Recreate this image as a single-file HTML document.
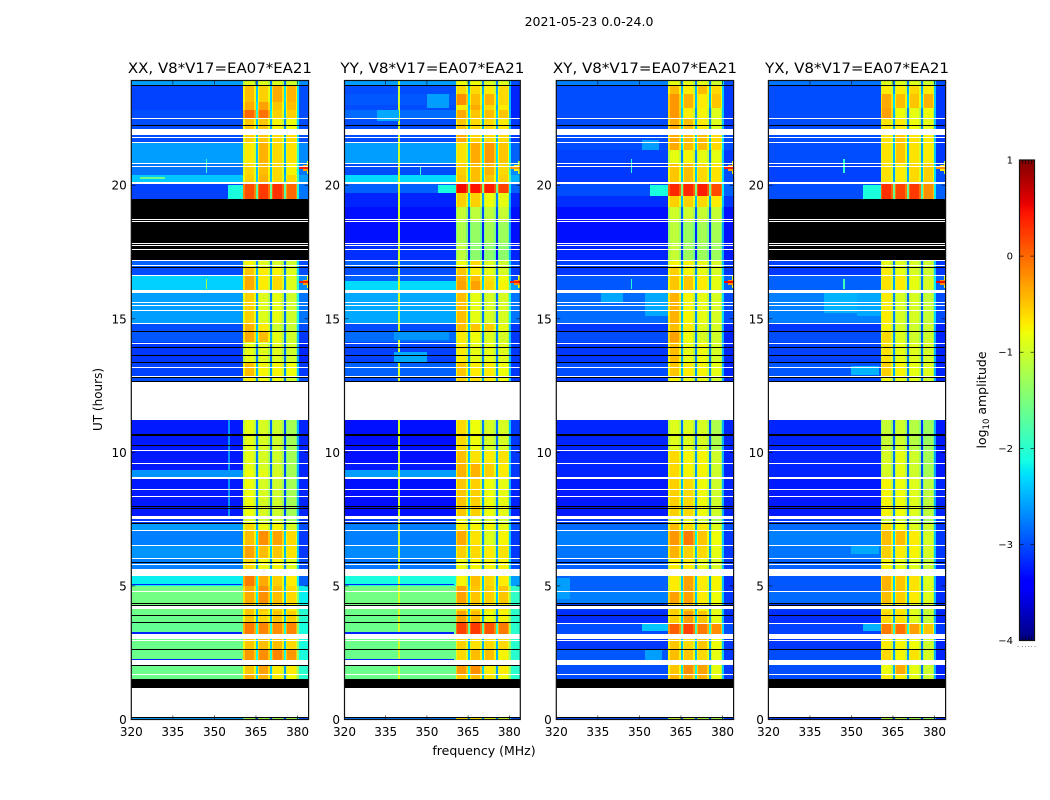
<!DOCTYPE html>
<html lang="en">
<head>
<meta charset="utf-8">
<title>2021-05-23 0.0-24.0</title>
<style>
html,body{margin:0;padding:0;background:#fff;}
svg{display:block;font-family:"DejaVu Sans","Liberation Sans",sans-serif;fill:#000;}
</style>
</head>
<body>
<svg id="figure" xmlns="http://www.w3.org/2000/svg" width="1050" height="800" viewBox="0 0 1050 800">
  <text x="589" y="26" font-size="12.5" text-anchor="middle">2021-05-23 0.0-24.0</text>
  <text x="484" y="755" font-size="12.5" text-anchor="middle">frequency (MHz)</text>
  <text transform="translate(102,399.5) rotate(-90)" font-size="12" text-anchor="middle">UT (hours)</text>
  <text transform="translate(986,400) rotate(-90)" font-size="12.5" text-anchor="middle">log<tspan font-size="8.5" dy="3">10</tspan><tspan dy="-3"> amplitude</tspan></text>
</svg>
<script>
// Tick labels
const freqTicks = [320, 335, 350, 365, 380];
const hourTicks = [0, 5, 10, 15, 20];
const colorTicks = [1, 0, -1, -2, -3, -4];

// Spectral layout of the receiver, MHz
const subbandEdges = [[360.5, 364.9], [365.7, 370.0], [370.7, 375.0], [375.7, 379.9]];

// Rows: hour top, hour bottom, log10 amplitude of background, subbands 1-4, upper edge
const xxRows = [
  [23.9,23.74,-2.6,-.9,-.9,-.9,-1,-2.7],
  [23.74,23.13,-3.05,-.45,-.55,-.35,-.4,-3],
  [23.13,22.82,-3.05,-.35,-.3,-.5,-.45,-3],
  [22.82,22.51,-3,0,-.05,-.55,-.55,-3],
  [22.51,22.09,-3,-.5,-.5,-.75,-.8,-3],
  [21.87,21.62,-3,-.55,-.5,-.6,-.6,-3],
  [21.62,20.8,-2.6,-.7,-.4,-.6,-.65,-2.7],
  [20.8,20.38,-2.8,-.6,-.45,-.6,-.75,-2.8],
  [20.38,20.11,-2.4,-.55,-.4,-.6,-.6,-2.6],
  [20.04,19.48,-3.05,.15,.25,.3,0,-2.8],
  [17.2,16.93,-2.9,-.75,-.9,-.95,-1,-3],
  [16.93,16.64,-3,-.5,-.7,-.75,-.9,-3],
  [16.64,16.07,-2.35,-.35,-.7,-.6,-.9,-2.7],
  [15.96,14.86,-2.6,-.55,-.9,-.85,-1,-2.8],
  [14.79,14.54,-3,-.4,-.7,-1,-1.05,-3],
  [14.54,14.14,-2.95,-.35,-.45,-.85,-1,-3.1],
  [14.14,13.4,-3.1,-.85,-.9,-.9,-1,-3.2],
  [13.4,12.82,-3.05,-.45,-.75,-.75,-.8,-3.1],
  [12.82,12.64,-3,-.7,-.8,-.8,-1,-3],
  [11.2,9.33,-3.25,-.85,-.95,-1,-1.25,-3.2],
  [9.33,9.09,-2.65,-.8,-.85,-.95,-1.25,-3.2],
  [9.04,7.61,-3.25,-.8,-.95,-1,-1.25,-3.2],
  [7.5,7.37,-3.1,-.9,-1,-1,-1.25,-3.1],
  [7.37,7.11,-2.6,-.6,-.8,-.75,-.95,-3],
  [7.11,6.55,-2.75,-.45,-.2,-.3,-.6,-3.1],
  [6.55,6.06,-2.65,-.3,-.45,-.5,-.65,-3.1],
  [6.06,5.62,-2.75,-.6,-.8,-.75,-.9,-3],
  [5.36,5,-2.2,-.1,-.35,-.55,-.7,-2.9],
  [5,4.36,-1.55,-.35,-.2,-.45,-.6,-2.2],
  [4.36,4.06,-1.55,-.5,-.5,-.6,-.7,-2.1],
  [4.06,3.65,-1.6,-.5,-.6,-.5,-.55,-2],
  [3.65,3.21,-1.65,-.1,-.15,-.2,-.15,-2.1],
  [3.03,2.65,-1.6,-.5,-.45,-.45,-.6,-2.1],
  [2.65,2.21,-1.6,-.25,-.2,-.15,-.25,-2.1],
  [2.05,1.71,-1.6,-.5,-.3,-.7,-.7,-2],
  [1.71,1.52,-1.6,-.35,-.4,-.7,-.8,-2],
  [.05,0,-2.6,-1.2,-1.2,-1.2,-1.2,-3]
];
const yyRows = [
  [23.9,23.74,-2.6,-.8,-.8,-.9,-.9,-3],
  [23.74,23.4,-3,-.6,-.6,-.7,-.6,-3.2],
  [23.4,23,-2.95,-.2,-.45,-.4,-.6,-3.2],
  [23,22.82,-3,-.7,-.35,-.6,-.7,-3.2],
  [22.82,22.51,-2.85,-.35,-.5,-.45,-.5,-3.2],
  [22.51,22.09,-3,-.5,-.6,-.6,-.7,-3.1],
  [21.87,21.62,-3,-.35,-.55,-.6,-.6,-3.1],
  [21.62,20.8,-2.6,-.65,-.35,-.25,-.5,-2.9],
  [20.8,20.38,-3,-.55,-.45,-.4,-.6,-2.7],
  [20.38,20.11,-2.3,-.5,-.45,-.5,-.55,-2.5],
  [20.04,19.7,-2.9,.5,.45,.4,.2,-2.9],
  [19.7,19.2,-3.2,-.55,-.55,-.8,-.85,-3.2],
  [19.2,18.66,-3.3,-1.05,-1.1,-1.1,-1.05,-3.3],
  [18.66,17.82,-3.3,-1.2,-1.35,-1.25,-1.3,-3.3],
  [17.82,17.2,-3.15,-1.1,-1.4,-1.4,-1.4,-3.2],
  [17.2,16.93,-2.9,-.8,-.6,-.9,-1,-3],
  [16.93,16.64,-3,-.5,-.7,-.85,-.95,-3.1],
  [16.64,16.4,-2.9,-.35,-.45,-.65,-.8,-3],
  [16.4,16.07,-2.3,-.3,-.3,-.6,-.75,-2.6],
  [15.96,14.86,-2.55,-.45,-.85,-.95,-.95,-2.8],
  [14.79,14.54,-3,-.45,-.5,-.55,-.85,-3.1],
  [14.54,14.14,-2.85,-.7,-.8,-.9,-.95,-3.1],
  [14.14,13.4,-3.05,-.7,-.85,-.85,-.9,-3.1],
  [13.4,12.82,-2.9,-.5,-.7,-.7,-.8,-3.1],
  [12.82,12.64,-3,-.55,-.65,-.7,-.8,-3.1],
  [11.2,10.1,-3.3,-.6,-.8,-.95,-.95,-3.1],
  [10.1,9.62,-3.3,-.45,-.65,-.7,-.65,-3.1],
  [9.62,9.33,-3.25,-.4,-.4,-.55,-.7,-3.1],
  [9.33,9.09,-2.6,-.4,-.4,-.55,-.7,-3.1],
  [9.04,7.61,-3.3,-.5,-.55,-.8,-.85,-3.2],
  [7.5,7.37,-3.1,-.8,-.9,-.95,-1,-3.1],
  [7.37,7.11,-2.75,-.7,-.75,-.75,-.85,-3],
  [7.11,6.55,-2.75,-.35,-.65,-.9,-.75,-3.1],
  [6.55,6.06,-2.7,-.55,-.6,-.7,-.65,-3.1],
  [6.06,5.62,-2.8,-.8,-.75,-.75,-.75,-3],
  [5.36,5,-2.1,-.75,-.45,-.6,-.7,-2.6],
  [5,4.36,-1.55,-.3,-.5,-.55,-.5,-1.95],
  [4.36,4.06,-1.55,-.6,-.6,-.7,-.7,-1.95],
  [4.06,3.65,-1.6,-.3,-.45,-.8,-.75,-2],
  [3.65,3.21,-1.6,.2,.25,.1,-.1,-2],
  [3.03,2.65,-1.6,-.55,-.65,-.6,-.6,-2],
  [2.65,2.21,-1.6,-.6,-.45,-.45,-.75,-2],
  [2.05,1.71,-1.6,-.25,-.2,-.7,-.7,-2],
  [1.71,1.52,-1.6,-.5,-.45,-.65,-.8,-2],
  [.05,0,-2.8,-.6,-.7,-.8,-1,-3]
];
const xyRows = [
  [23.9,23.74,-2.75,-.85,-.85,-.85,-1,-3],
  [23.74,23.4,-3,-.45,-.7,-.45,-.6,-3.1],
  [23.4,22.9,-3,-.25,-.4,-.7,-.5,-3.1],
  [22.9,22.51,-3,-.25,-.7,-.75,-.9,-3.1],
  [22.51,22.09,-3,-.35,-.45,-.7,-.9,-3.1],
  [21.87,21.31,-3,-.35,-.45,-.45,-.6,-3],
  [21.31,20.8,-3.05,-.85,-.75,-.85,-.85,-3.1],
  [20.8,20.11,-3.1,-.5,-.45,-.6,-.65,-3],
  [20.04,19.6,-3,.35,.35,.4,.15,-2.9],
  [19.6,19.2,-3.15,-.55,-.55,-.6,-.7,-3.1],
  [19.2,18.66,-3.3,-1,-1,-1.05,-1.05,-3.3],
  [18.66,17.82,-3.3,-1.1,-1.3,-1.25,-1.25,-3.3],
  [17.82,17.2,-3.2,-1.05,-1.3,-1.3,-1.3,-3.25],
  [17.2,16.93,-3.05,-.75,-.75,-.85,-.95,-3.1],
  [16.93,16.64,-3.1,-.55,-.75,-.85,-.95,-3.1],
  [16.64,16.07,-2.95,-.5,-.5,-.7,-.85,-2.9],
  [15.96,14.86,-2.85,-.4,-.75,-.85,-.95,-3],
  [14.79,14.54,-3.1,-.45,-.7,-.9,-.95,-3.2],
  [14.54,14.14,-3,-.3,-.8,-.95,-1,-3.2],
  [14.14,13.4,-3.1,-.45,-.85,-.8,-.95,-3.2],
  [13.4,12.82,-3,-.5,-.7,-.75,-.85,-3.2],
  [12.82,12.64,-3.1,-.75,-.85,-.85,-1,-3.2],
  [11.2,10.1,-3.2,-.9,-.9,-.95,-1.2,-3.2],
  [10.1,9.09,-3.2,-.6,-.75,-.75,-1,-3.2],
  [9.04,7.61,-3.25,-.55,-.6,-.8,-1,-3.2],
  [7.5,7.37,-3.1,-.8,-.85,-1,-1.2,-3.1],
  [7.37,7.11,-2.85,-.45,-.6,-.7,-.9,-3],
  [7.11,6.55,-2.75,-.25,-.1,-.5,-.8,-3.1],
  [6.55,6.06,-2.8,-.4,-.55,-.6,-.85,-3.1],
  [6.06,5.62,-2.9,-.7,-.7,-.85,-.95,-3.1],
  [5.36,4.82,-2.9,-.7,-.3,-.7,-.75,-3.15],
  [4.82,4.36,-2.75,-.3,-.3,-.7,-.8,-3.1],
  [4.36,4.06,-3.1,-.55,-.55,-.75,-.9,-3.1],
  [4.06,3.63,-3.15,-.55,-.3,-.5,-.85,-3.15],
  [3.63,3.21,-3,.05,.2,-.1,-.2,-3],
  [3.03,2.65,-3.1,-.5,-.6,-.5,-.8,-3.1],
  [2.65,2.21,-2.95,-.45,-.5,-.6,-.85,-3.1],
  [2.05,1.71,-3,-.5,-.2,-.3,-.85,-3.1],
  [1.71,1.52,-3,-.4,-.35,-.4,-.85,-3.1],
  [.05,0,-3,-1,-1,-1.1,-1.2,-3.1]
];
const yxRows = [
  [23.9,23.74,-2.8,-.9,-.9,-.9,-1,-3],
  [23.74,23.4,-3,-.7,-.7,-.6,-.7,-3.1],
  [23.4,22.9,-3,-.35,-.45,-.5,-.4,-3.1],
  [22.9,22.51,-3,-.3,-.8,-.85,-.8,-3.1],
  [22.51,22.09,-3,-.65,-.7,-.8,-.85,-3.1],
  [21.87,20.8,-3,-.65,-.5,-.65,-.7,-3.1],
  [20.8,20.11,-3.05,-.65,-.7,-.6,-.55,-3],
  [20.04,19.48,-3,.3,.2,.25,-.2,-2.9],
  [17.2,16.93,-3.05,-.85,-.9,-.95,-1,-3.1],
  [16.93,16.64,-3.1,-.7,-.85,-.95,-1,-3.1],
  [16.64,16.07,-2.9,-.65,-.7,-.85,-.95,-2.9],
  [15.96,14.86,-2.75,-.7,-.95,-.95,-1.05,-3],
  [14.79,14.54,-3.1,-.75,-.95,-1,-1,-3.2],
  [14.54,14.14,-3,-.6,-.9,-1,-1,-3.2],
  [14.14,13.4,-3.05,-.65,-.85,-.9,-.95,-3.2],
  [13.4,12.82,-2.95,-.55,-.75,-.85,-.9,-3.2],
  [12.82,12.64,-3.05,-.8,-.85,-.9,-1,-3.2],
  [11.2,10.1,-3.2,-1.05,-1,-1.15,-1.3,-3.25],
  [10.1,9.09,-3.2,-.95,-.85,-1,-1.25,-3.25],
  [9.04,7.61,-3.25,-.75,-.8,-.9,-1.1,-3.2],
  [7.5,7.37,-3.1,-1,-1,-1.1,-1.25,-3.1],
  [7.37,7.11,-2.85,-.6,-.8,-.9,-1,-3.1],
  [7.11,6.55,-2.75,-.45,-.45,-.7,-.95,-3.1],
  [6.55,6.06,-2.8,-.55,-.7,-.75,-.95,-3.1],
  [6.06,5.62,-2.9,-.75,-.85,-.9,-1.05,-3.1],
  [5.36,4.82,-2.95,-.4,-.5,-.65,-.9,-3.15],
  [4.82,4.36,-2.85,-.45,-.55,-.7,-.9,-3.15],
  [4.36,4.06,-3.1,-.7,-.7,-.9,-1,-3.15],
  [4.06,3.63,-3.15,-.6,-.65,-.9,-1.05,-3.2],
  [3.63,3.21,-3.05,-.1,-.05,-.3,-.5,-3.1],
  [3.03,2.65,-3.1,-.7,-.75,-.8,-1,-3.2],
  [2.65,2.21,-3,-.6,-.75,-.65,-.95,-3.2],
  [2.05,1.71,-3,-.8,-.35,-.85,-1,-3.2],
  [1.71,1.52,-3,-.7,-.7,-.85,-1,-3.2],
  [.05,0,-3.1,-1.1,-1.1,-1.2,-1.3,-3.2]
];

// Localised features: hour top, hour bottom, MHz start, MHz end, log10 amplitude
const xxPatches = [
  [20,19.5,355,360.5,-2.1],[21.0,20.45,347,347.5,-1.9],[16.5,16.1,347,347.5,-1.2],
  [20.9,20.42,383.3,384,-.9],[20.76,20.55,381.8,384,-.3],[20.69,20.62,380.4,384,.4],
  [16.6,16.15,383.3,384,-.9],[16.47,16.28,381.8,384,-.3],[16.4,16.34,380.4,384,.4],
  [20.3,20.24,323,332,-1.6],[5.08,5.02,320,360,-3.2],[3.28,3.21,320,360,-3.2],[2.28,2.21,320,360,-3.2],
  [11.2,7.6,355,355.5,-2.65]
];
const yyPatches = [
  [23.9,1.52,339.6,340.1,-1],
  [20.9,20.42,383.3,384,-1.1],[20.76,20.55,381.8,384,-.7],[20.69,20.62,380.4,384,-.3],
  [16.6,16.15,383.3,384,-.8],[16.47,16.28,381.8,384,-.2],[16.4,16.34,380.4,384,.4],
  [20,19.7,354,360.5,-2.1],[20.7,20.4,347.5,348,-1.9],
  [23.4,22.9,350,358,-2.6],[22.8,22.4,332,340,-2.55],
  [5.08,5.02,320,360,-3.2],[3.28,3.21,320,360,-3.2],[2.28,2.21,320,360,-3.2],
  [14.5,14.2,338,358,-2.65],[13.75,13.4,338,350,-2.55]
];
const xyPatches = [
  [20,19.6,354,360.5,-2.1],[21.0,20.45,347,347.5,-2],[16.5,16.1,347,347.5,-2],
  [20.9,20.42,383.3,384,-.9],[20.76,20.55,381.8,384,-.3],[20.69,20.62,380.4,384,.4],
  [16.6,16.15,383.3,384,-.9],[16.47,16.28,381.8,384,-.2],[16.4,16.34,380.4,384,.5],
  [16,15.1,352,360.5,-2.55],[21.7,21.3,351,357,-2.6],[15.96,15.6,336,344,-2.55],
  [3.63,3.3,351,360.5,-2.4],[5.3,4.5,320,325,-2.6],[2.65,2.2,352,358,-2.6]
];
const yxPatches = [
  [20,19.5,354,360.5,-2.1],[21.0,20.45,347,347.5,-2],[16.5,16.1,347,347.5,-1.9],
  [20.9,20.42,383.3,384,-1.1],[20.76,20.55,381.8,384,-.7],[20.69,20.62,380.4,384,-.2],
  [16.6,16.15,383.3,384,-.9],[16.47,16.28,381.8,384,-.2],[16.4,16.34,380.4,384,.5],
  [16,15.2,340,352,-2.5],[15.96,15.1,352,360.5,-2.55],[13.25,12.9,350,360,-2.5],
  [6.55,6.2,350,360,-2.55],[3.63,3.3,354,360.5,-2.5]
];

// Flagged rows, hours
const missingSpans = [[22.09,21.87],[20.11,20.04],[16.07,15.96],[14.86,14.79],[12.64,11.2],[7.61,7.5],[5.62,5.36],[4.23,4.13],[3.21,3.03],[2.21,2.05],[1.17,.1]];
const missingRows = [22.51,21.81,21.62,20.83,20.73,18.74,18.66,17.82,17.76,17.61,17.2,17,16.64,15.64,15.51,15.32,14.11,13.18,12.86,10.1,9.62,9.09,9.04,8.61,8.37,7.42,7.11,6.55,6.06,5.83,4.82,2.96,1.71];
const zeroRows = [23.74,22.24,16.93,14.54,13.96,13.66,13.4,12.82,10.7,10.66,10.29,7.98,7.91,7.37,5.89,4.36,4.28,3.9,2.65];
const zeroSpans = [[12.68,12.62],[1.52,1.17],[.1,.05]];
const xxExtraZero = [3.65,2.05];
const yyExtraZero = [3.65,2.05];
const xyExtraWhite = [3.63];
const yxExtraWhite = [3.63];
const xxZeroBlock = [[19.48,17.2]];
const yxZeroBlock = [[19.48,17.2]];

const panelTitles = ['XX, V8*V17=EA07*EA21','YY, V8*V17=EA07*EA21','XY, V8*V17=EA07*EA21','YX, V8*V17=EA07*EA21'];
const panelLefts = [131.3, 344.5, 556.3, 768.4];
const panelRights = [308.6, 520.3, 733.6, 945.6];
const panelRows = [xxRows, yyRows, xyRows, yxRows];
const panelPatches = [xxPatches, yyPatches, xyPatches, yxPatches];
const panelKeys = ['xx','yy','xy','yx'];
const panelBlocks = [xxZeroBlock, [], [], yxZeroBlock];
const panelZeroLines = [xxExtraZero, yyExtraZero, [], []];
const panelWhiteLines = [[], [], xyExtraWhite, yxExtraWhite];

const SVGNS = 'http://www.w3.org/2000/svg';
const fig = document.getElementById('figure');
const TOP = 80.5, BOT = 719.5, HMAX = 23.92, FMIN = 320, FMAX = 384;

function make(tag, attrs, parent) {
  const n = document.createElementNS(SVGNS, tag);
  for (const k in attrs) n.setAttribute(k, attrs[k]);
  parent.appendChild(n);
  return n;
}
function jet(v) {
  const t = Math.max(0, Math.min(1, (v + 4) / 5));
  const lerp = pts => {
    for (let i = 1; i < pts.length; i++) {
      if (t <= pts[i][0]) {
        const a = pts[i - 1], b = pts[i];
        return a[1] + (b[1] - a[1]) * (t - a[0]) / (b[0] - a[0]);
      }
    }
    return pts[pts.length - 1][1];
  };
  const r = lerp([[0,0],[.35,0],[.66,1],[.89,1],[1,.5]]);
  const g = lerp([[0,0],[.125,0],[.375,1],[.64,1],[.91,0],[1,0]]);
  const b = lerp([[0,.5],[.11,1],[.34,1],[.65,0],[1,0]]);
  return 'rgb(' + Math.round(r * 255) + ',' + Math.round(g * 255) + ',' + Math.round(b * 255) + ')';
}
const yOf = h => BOT - (h / HMAX) * (BOT - TOP);

panelTitles.forEach((title, p) => {
  const L = panelLefts[p], R = panelRights[p];
  const xOf = f => L + (f - FMIN) / (FMAX - FMIN) * (R - L);
  const key = panelKeys[p];

  const panel = make('g', {}, fig);
  
  

  const heat = make('g', {'shape-rendering': 'crispEdges'}, panel);
  
  

  function cell(f0, f1, h0, h1, fill) {
    const x0 = Math.round(xOf(f0)), x1 = Math.round(xOf(f1));
    const y0 = Math.round(yOf(h0)), y1 = Math.round(yOf(h1));
    const r = make('rect', {x: x0, y: y0, width: Math.max(1, x1 - x0), height: Math.max(1, y1 - y0), fill: fill}, heat);
    
    
  }
  function hline(h, fill) {
    const y = Math.round(yOf(h));
    const r = make('rect', {x: Math.round(L), y: y, width: Math.round(R) - Math.round(L), height: 1, fill: fill}, heat);
    
    
  }

  panelRows[p].forEach(row => {
    const hTop = row[0], hBot = row[1], bg = row[2], edge = row[7];
    cell(FMIN, subbandEdges[0][0], hTop, hBot, jet(bg));
    subbandEdges.forEach((se, i) => {
      const lvl = row[3 + i];
      cell(se[0], se[1], hTop, hBot, jet(lvl - .3));
      cell(se[0] + .5, se[1] - .5, hTop, hBot, jet(lvl));
      const next = subbandEdges[i + 1];
      if (next) {
        const gap = (lvl + row[4 + i]) / 2 - 1.9;
        cell(se[1], next[0], hTop, hBot, jet(gap));
      }
    });
    cell(subbandEdges[3][1], FMAX, hTop, hBot, jet(edge));
    cell(subbandEdges[3][1], subbandEdges[3][1] + .6, hTop, hBot, jet(edge + .7));
  });

  panelPatches[p].forEach(pt => cell(pt[2], pt[3], pt[0], pt[1], jet(pt[4])));

  panelBlocks[p].forEach(s => cell(FMIN, FMAX, s[0], s[1], '#000'));
  zeroSpans.forEach(s => cell(FMIN, FMAX, s[0], s[1], '#000'));
  zeroRows.forEach(h => hline(h, '#000'));
  panelZeroLines[p].forEach(h => hline(h, '#000'));
  missingSpans.forEach(s => cell(FMIN, FMAX, s[0], s[1], '#fff'));
  missingRows.forEach(h => hline(h, '#fff'));
  panelWhiteLines[p].forEach(h => hline(h, '#fff'));

  freqTicks.forEach(f => {
    const x = xOf(f);
    const tb = make('line', {x1: x, x2: x, y1: BOT, y2: BOT - 4, stroke: '#000', 'stroke-width': .6}, panel);
    
    
    const tt = make('line', {x1: x, x2: x, y1: TOP, y2: TOP + 4, stroke: '#000', 'stroke-width': .6}, panel);
    
    
    const lb = make('text', {x: x, y: 736, 'font-size': 12, 'text-anchor': 'middle'}, panel);
    
    
    lb.textContent = String(f);
  });
  hourTicks.forEach(h => {
    const y = yOf(h);
    const tl = make('line', {x1: L, x2: L + 4, y1: y, y2: y, stroke: '#000', 'stroke-width': .6}, panel);
    
    
    const tr = make('line', {x1: R, x2: R - 4, y1: y, y2: y, stroke: '#000', 'stroke-width': .6}, panel);
    
    
    const lb = make('text', {x: L - 4.5, y: y + 4.5, 'font-size': 12, 'text-anchor': 'end'}, panel);
    
    
    lb.textContent = String(h);
  });

  const frame = make('rect', {x: L, y: TOP, width: R - L, height: BOT - TOP, fill: 'none', stroke: '#111', 'stroke-width': 1.2}, panel);
  
  

  const t = make('text', {x: (L + R) / 2, y: 73, 'font-size': 14, 'text-anchor': 'middle', textLength: 184, lengthAdjust: 'spacingAndGlyphs'}, panel);
  
  
  t.textContent = title;
});

// Colorbar
const CB = {x0: 1019.5, x1: 1034.5, top: 160, bot: 640.5, vmin: -4, vmax: 1};
const cbY = v => CB.bot - (v - CB.vmin) / (CB.vmax - CB.vmin) * (CB.bot - CB.top);
const cbGroup = make('g', {}, fig);


const cbSteps = make('g', {'shape-rendering': 'crispEdges'}, cbGroup);


for (let y = Math.round(CB.top); y < Math.round(CB.bot); y++) {
  const v = CB.vmin + (CB.bot - y - .5) / (CB.bot - CB.top) * (CB.vmax - CB.vmin);
  const s = make('rect', {x: Math.round(CB.x0), y: y, width: Math.round(CB.x1 - CB.x0), height: 1, fill: jet(v)}, cbSteps);
  
  
}
colorTicks.forEach(v => {
  const y = cbY(v);
  const a = make('line', {x1: CB.x0, x2: CB.x0 + 4, y1: y, y2: y, stroke: '#000', 'stroke-width': .6}, cbGroup);
  
  
  const b = make('line', {x1: CB.x1, x2: CB.x1 - 4, y1: y, y2: y, stroke: '#000', 'stroke-width': .6}, cbGroup);
  
  
  const lb = make('text', {x: 1013, y: y + 3.5, 'font-size': 10, 'text-anchor': 'end'}, cbGroup);
  
  
  lb.textContent = (v < 0 ? '\u2212' : '') + Math.abs(v);
});
[1022.5, 1025.5, 1028.5, 1031.5].forEach(x => {
  const a = make('line', {x1: x, x2: x, y1: CB.top, y2: CB.top + 4, stroke: '#000', 'stroke-width': .6}, cbGroup);
  
  
  const b = make('line', {x1: x, x2: x, y1: CB.bot, y2: CB.bot - 4, stroke: '#000', 'stroke-width': .6}, cbGroup);
  
  
  const d = make('rect', {x: x - .5, y: 646, width: 1, height: 1, fill: '#888'}, cbGroup);
  
  
});
[1018, 1035].forEach(x => {
  const d = make('rect', {x: x - .5, y: 646, width: 1, height: 1, fill: '#888'}, cbGroup);
  
  
});
const cbFrame = make('rect', {x: CB.x0, y: CB.top, width: CB.x1 - CB.x0, height: CB.bot - CB.top, fill: 'none', stroke: '#111', 'stroke-width': 1.2}, cbGroup);


</script>
</body>
</html>
